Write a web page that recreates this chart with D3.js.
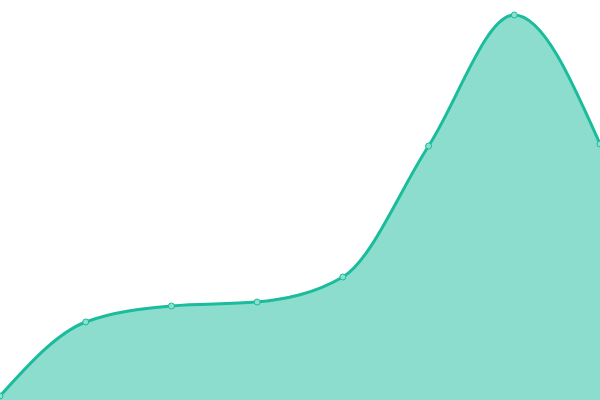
<!DOCTYPE html>
<html>
<head>
<meta charset="utf-8">
<script src="https://cdn.jsdelivr.net/npm/d3@7"></script>
<style>
  body { margin: 0; background: #fff; }
  svg { display: block; }
</style>
</head>
<body>
<div id="chart"></div>
<script>
// data
let categories = [0, 1, 2, 3, 4, 5, 6, 7];
let values = [4, 78, 94, 98, 123, 254, 385, 256];

let svgWidth = 600;
let svgHeight = 400;

let svg = d3.select("#chart")
    .append("svg")
    .attr("width", svgWidth)
    .attr("height", svgHeight);

let x = d3.scaleLinear()
    .domain([0, categories.length - 1])
    .range([0, svgWidth]);

let y = d3.scaleLinear()
    .domain([0, 400])
    .range([svgHeight, 0]);

let pts = categories.map((c, i) => ({ c: c, v: values[i] }));

let area = d3.area()
    .x(d => x(d.c))
    .y0(y(0))
    .y1(d => y(d.v))
    .curve(d3.curveMonotoneX);

let line = d3.line()
    .x(d => x(d.c))
    .y(d => y(d.v))
    .curve(d3.curveMonotoneX);

svg.append("path")
    .datum(pts)
    .attr("d", area)
    .attr("fill", "#1abc9c")
    .attr("fill-opacity", 0.5);

svg.append("path")
    .datum(pts)
    .attr("d", line)
    .attr("fill", "none")
    .attr("stroke", "#1abc9c")
    .attr("stroke-width", 3);

svg.selectAll("circle")
    .data(pts)
    .enter()
    .append("circle")
    .attr("cx", d => x(d.c))
    .attr("cy", d => y(d.v))
    .attr("r", 3)
    .attr("fill", "#8cdece")
    .attr("stroke", "#1abc9c")
    .attr("stroke-width", 1);
</script>
</body>
</html>
